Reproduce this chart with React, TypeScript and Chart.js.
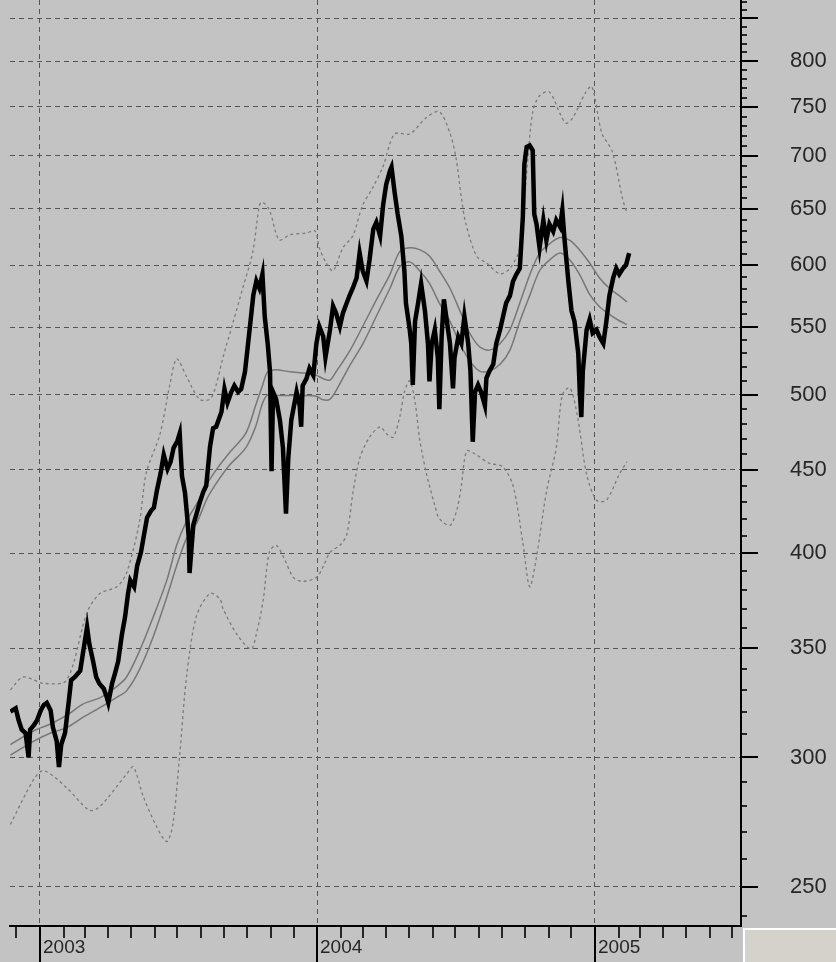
import { useEffect, useRef } from 'react';
import { Chart, registerables } from 'chart.js';

Chart.register(...registerables);

// ---- axis window -----------------------------------------------------------
const AXIS_START = '2002-11-22T12:00:00Z';
const AXIS_END = '2005-07-12T08:00:00Z';
const PRICE_MIN = 236.6;
const PRICE_MAX = 872;

const GRID_VALUES = [250, 300, 350, 400, 450, 500, 550, 600, 650, 700, 750, 800, 850];
const LABEL_VALUES = [250, 300, 350, 400, 450, 500, 550, 600, 650, 700, 750, 800];
const YEAR_LABELS = ['2003', '2004', '2005'];

// ---- daily price -------------------------------------------------------------
const priceDates = [
  '2002-11-23', '2002-11-30', '2002-12-04', '2002-12-08', '2002-12-13', '2002-12-17', '2002-12-19', '2002-12-24',
  '2002-12-28', '2003-01-02', '2003-01-06', '2003-01-10', '2003-01-15', '2003-01-18', '2003-01-23', '2003-01-26',
  '2003-01-29', '2003-02-03', '2003-02-08', '2003-02-11', '2003-02-16', '2003-02-23', '2003-02-27', '2003-03-04',
  '2003-03-07', '2003-03-12', '2003-03-16', '2003-03-20', '2003-03-26', '2003-03-30', '2003-04-01', '2003-04-06',
  '2003-04-10', '2003-04-14', '2003-04-19', '2003-04-23', '2003-04-27', '2003-04-30', '2003-05-05', '2003-05-09',
  '2003-05-14', '2003-05-18', '2003-05-22', '2003-05-27', '2003-05-31', '2003-06-04', '2003-06-09', '2003-06-13',
  '2003-06-18', '2003-06-22', '2003-06-26', '2003-07-01', '2003-07-04', '2003-07-07', '2003-07-11', '2003-07-14',
  '2003-07-16', '2003-07-17', '2003-07-22', '2003-07-26', '2003-07-30', '2003-08-04', '2003-08-08', '2003-08-13',
  '2003-08-17', '2003-08-21', '2003-08-28', '2003-09-01', '2003-09-05', '2003-09-10', '2003-09-14', '2003-09-19',
  '2003-09-23', '2003-09-28', '2003-10-02', '2003-10-06', '2003-10-09', '2003-10-13', '2003-10-17', '2003-10-21',
  '2003-10-24', '2003-10-28', '2003-10-31', '2003-11-02', '2003-11-04', '2003-11-08', '2003-11-13', '2003-11-17',
  '2003-11-21', '2003-11-24', '2003-11-28', '2003-12-05', '2003-12-09', '2003-12-11', '2003-12-13', '2003-12-18',
  '2003-12-22', '2003-12-27', '2003-12-31', '2004-01-04', '2004-01-09', '2004-01-12', '2004-01-18', '2004-01-22',
  '2004-01-26', '2004-01-31', '2004-02-04', '2004-02-09', '2004-02-13', '2004-02-17', '2004-02-22', '2004-02-26',
  '2004-03-01', '2004-03-06', '2004-03-10', '2004-03-15', '2004-03-19', '2004-03-24', '2004-03-28', '2004-04-01',
  '2004-04-06', '2004-04-08', '2004-04-12', '2004-04-16', '2004-04-21', '2004-04-25', '2004-04-27', '2004-05-02',
  '2004-05-04', '2004-05-06', '2004-05-09', '2004-05-13', '2004-05-17', '2004-05-22', '2004-05-26', '2004-05-28',
  '2004-05-31', '2004-06-04', '2004-06-08', '2004-06-10', '2004-06-13', '2004-06-16', '2004-06-19', '2004-06-24',
  '2004-06-28', '2004-06-30', '2004-07-05', '2004-07-09', '2004-07-13', '2004-07-18', '2004-07-21', '2004-07-24',
  '2004-07-27', '2004-07-31', '2004-08-04', '2004-08-09', '2004-08-11', '2004-08-15', '2004-08-20', '2004-08-24',
  '2004-08-29', '2004-09-02', '2004-09-06', '2004-09-11', '2004-09-15', '2004-09-19', '2004-09-24', '2004-09-28',
  '2004-09-30', '2004-10-03', '2004-10-07', '2004-10-11', '2004-10-13', '2004-10-16', '2004-10-20', '2004-10-25',
  '2004-10-29', '2004-11-02', '2004-11-07', '2004-11-11', '2004-11-16', '2004-11-19', '2004-11-22', '2004-11-27',
  '2004-12-01', '2004-12-05', '2004-12-10', '2004-12-12', '2004-12-14', '2004-12-16', '2004-12-21', '2004-12-25',
  '2004-12-29', '2005-01-03', '2005-01-07', '2005-01-12', '2005-01-16', '2005-01-20', '2005-01-25', '2005-01-29',
  '2005-02-02', '2005-02-07', '2005-02-11', '2005-02-15',
];
const priceValues = [
  320, 321.5, 316, 312, 310.5, 300, 312, 314,
  316, 320.5, 323, 324, 320.5, 313, 307, 296,
  305.5, 310.5, 325, 334.5, 336, 339, 348.5, 360.5,
  352, 343.5, 336, 333, 330.5, 326.5, 324, 333,
  338, 343.5, 357, 365.5, 378, 385, 381.5, 393,
  400.5, 410.5, 420.5, 424.5, 426.5, 437, 448, 459.5,
  450.5, 455, 464, 468.5, 473.5, 446, 435.5, 420.5,
  408.5, 389, 416.5, 422.5, 429, 436, 440, 465,
  477, 478, 488, 504, 494.5, 502, 506.5, 502,
  504, 516.5, 537, 558.5, 575.5, 587, 581, 592.5,
  558.5, 537, 516.5, 449, 502, 497, 482.5, 464,
  423, 457, 482.5, 502, 492.5, 478, 506.5, 511.5,
  519, 514, 537, 550.5, 543, 527, 548, 566.5,
  561, 550.5, 561, 569, 575.5, 581, 589.5, 610.5,
  595.5, 587, 604.5, 631.5, 637.5, 625.5, 653.5, 672.5,
  685.5, 689, 665.5, 645.5, 625, 595, 569, 548,
  537.5, 507, 554.5, 569, 585, 563, 537.5, 509.5,
  537.5, 548, 527, 490, 542.5, 572, 558.5, 537.5,
  504.5, 527, 542.5, 537.5, 558.5, 537.5, 517, 468,
  502, 507, 502, 492.5, 512, 517, 522, 537.5,
  548, 558.5, 569, 575, 586.5, 592, 597.5, 642.5,
  692, 709, 710.5, 705.5, 645, 636, 615, 639.5,
  621.5, 636, 629.5, 639.5, 633.5, 648.5, 621.5, 586.5,
  563, 554.5, 530, 502, 484.5, 517, 548, 556,
  545.5, 548, 542.5, 537.5, 554.5, 575, 589.5, 597.5,
  592.5, 597.5, 600.5, 610.5,
];

// ---- smoothed averages (upper / lower) ------------------------------------
const avgDates = [
  '2002-11-23', '2002-12-24', '2003-01-15', '2003-02-06', '2003-02-27', '2003-03-22', '2003-04-12', '2003-04-25',
  '2003-05-12', '2003-05-30', '2003-06-17', '2003-06-30', '2003-07-13', '2003-07-26', '2003-08-09', '2003-08-22',
  '2003-09-07', '2003-09-29', '2003-10-12', '2003-10-21', '2003-10-28', '2003-11-08', '2003-11-26', '2003-12-18',
  '2003-12-31', '2004-01-09', '2004-01-18', '2004-01-26', '2004-02-13', '2004-03-01', '2004-03-19', '2004-04-06',
  '2004-04-19', '2004-05-02', '2004-05-15', '2004-05-28', '2004-06-10', '2004-06-24', '2004-07-07', '2004-07-20',
  '2004-08-02', '2004-08-15', '2004-08-29', '2004-09-11', '2004-09-24', '2004-10-07', '2004-10-20', '2004-11-02',
  '2004-11-16', '2004-11-29', '2004-12-12', '2004-12-25', '2005-01-07', '2005-01-20', '2005-02-02', '2005-02-12',
];
const upperAvgValues = [
  305.5, 311.5, 314.5, 318.5, 323.5, 326.5, 331.5, 336,
  348.5, 365.5, 385, 404.5, 418.5, 428.5, 441, 450.5,
  460.5, 473.5, 492.5, 506.5, 516.5, 518, 516.5, 515.5,
  514, 511.5, 510.5, 516.5, 532, 550.5, 571.5, 592.5,
  612, 615, 613.5, 608, 595.5, 581, 563, 545.5,
  535, 532.5, 537.5, 548, 569, 592, 610.5, 618.5,
  624, 621.5, 613, 602, 589.5, 581, 575, 570,
];
const lowerAvgValues = [
  301, 307, 310.5, 313, 317.5, 322, 326.5, 329.5,
  339.5, 355.5, 376, 393, 408.5, 417, 432, 442,
  452.5, 464, 478, 494, 500, 499.5, 499.5, 499.5,
  499, 496.5, 497, 503, 521, 537, 558.5, 581,
  599, 603, 595.5, 585, 569, 554.5, 537.5, 524.5,
  517, 517, 522, 532.5, 554.5, 575, 595.5, 604.5,
  610.5, 604.5, 592, 576, 566, 560, 555, 552,
];

// ---- volatility envelope --------------------------------------------------
const upperBandDates = [
  '2002-11-23', '2002-12-10', '2003-01-06', '2003-02-05', '2003-03-04', '2003-03-21', '2003-04-12', '2003-04-25',
  '2003-05-12', '2003-05-21', '2003-06-08', '2003-06-21', '2003-06-30', '2003-07-13', '2003-07-30', '2003-08-13',
  '2003-08-21', '2003-08-30', '2003-09-12', '2003-09-25', '2003-10-08', '2003-10-17', '2003-10-21', '2003-10-30',
  '2003-11-12', '2003-11-26', '2003-12-18', '2003-12-29', '2004-01-04', '2004-01-13', '2004-01-22', '2004-02-04',
  '2004-02-17', '2004-03-01', '2004-03-14', '2004-03-28', '2004-04-12', '2004-05-02', '2004-05-24', '2004-06-10',
  '2004-06-24', '2004-07-02', '2004-07-09', '2004-07-15', '2004-07-29', '2004-08-11', '2004-08-29', '2004-09-11',
  '2004-09-24', '2004-10-04', '2004-10-11', '2004-10-20', '2004-11-02', '2004-11-16', '2004-11-24', '2004-12-03',
  '2004-12-20', '2004-12-28', '2005-01-10', '2005-01-24', '2005-02-06', '2005-02-12',
];
const upperBandValues = [
  330, 336, 333, 334.5, 368, 378, 381.5, 389,
  418, 448, 473, 507, 526, 513, 497, 497,
  507, 527, 553, 581, 610.5, 653, 656, 649,
  622, 626.5, 628, 630, 615, 602, 595.5, 615,
  625.5, 653, 669, 690, 722, 722, 739, 745,
  723, 698, 660, 636, 608, 602, 593, 597.5,
  615, 692, 745, 762, 766, 743, 733, 739,
  766, 772, 723, 704, 660, 646,
];

const lowerBandDates = [
  '2002-11-23', '2002-12-24', '2003-01-06', '2003-02-05', '2003-03-07', '2003-03-21', '2003-04-25', '2003-05-04',
  '2003-05-17', '2003-06-03', '2003-06-17', '2003-06-25', '2003-07-04', '2003-07-13', '2003-07-26', '2003-08-13',
  '2003-08-26', '2003-08-30', '2003-09-17', '2003-10-06', '2003-10-13', '2003-10-22', '2003-10-30', '2003-11-08',
  '2003-11-17', '2003-12-01', '2003-12-13', '2003-12-31', '2004-01-09', '2004-01-18', '2004-01-31', '2004-02-09',
  '2004-02-17', '2004-02-26', '2004-03-10', '2004-03-24', '2004-04-01', '2004-04-10', '2004-04-19', '2004-04-25',
  '2004-05-02', '2004-05-09', '2004-05-15', '2004-05-24', '2004-06-04', '2004-06-10', '2004-06-24', '2004-07-03',
  '2004-07-09', '2004-07-16', '2004-07-27', '2004-08-15', '2004-09-01', '2004-09-15', '2004-09-28', '2004-10-07',
  '2004-10-16', '2004-10-29', '2004-11-11', '2004-11-19', '2004-11-29', '2004-12-09', '2004-12-21', '2005-01-03',
  '2005-01-16', '2005-02-02', '2005-02-12',
];
const lowerBandValues = [
  273, 291, 294.5, 287.5, 278.5, 280, 293, 296,
  284, 272.5, 266.5, 273, 301, 336, 366, 378,
  375, 370, 357, 349.5, 357, 374.5, 400.5, 404.5,
  398.5, 386.5, 384.5, 386.5, 392.5, 400.5, 404.5, 410.5,
  435, 457, 471, 478, 473.5, 471, 485, 502,
  510, 495, 470, 447.5, 428, 420, 416, 425,
  440, 462, 460, 454, 452, 440, 406, 381.5,
  398, 436, 464, 500, 505, 485, 447, 431,
  431, 447, 455,
];

// ---- styling ----------------------------------------------------------------
const BG = '#c3c3c3';
const FONT = '"Liberation Sans", Arial, sans-serif';
const TEXT = '#262626';
const GRID = '#555555';
const GRID_DASH = [5, 4];
const BAND_COLOR = '#7b7b7b';

const toTime = (d: string) => new Date(d).getTime();
const series = (dates: string[], values: number[]) =>
  dates.map((d, i) => ({ x: toTime(d), y: values[i] }));

// Background, corner panel and the axis tick marks / year captions
const axisDecor = {
  id: 'axisDecor',
  beforeDraw(chart: any) {
    const { ctx, width, height, chartArea } = chart;
    ctx.save();
    ctx.fillStyle = BG;
    ctx.fillRect(0, 0, width, height);
    const px = Math.round(chartArea.right) + 2;
    const py = Math.round(chartArea.bottom) + 2;
    ctx.fillStyle = '#d5d2cc';
    ctx.fillRect(px, py, width - px, height - py);
    ctx.fillStyle = '#ffffff';
    ctx.fillRect(px, py, width - px, 2);
    ctx.fillRect(px, py, 2, height - py);
    ctx.restore();
  },
  afterDraw(chart: any) {
    const { ctx, chartArea, height } = chart;
    const xs = chart.scales.x;
    const ys = chart.scales.y;
    const axisX = Math.round(chartArea.right);
    const axisY = Math.round(chartArea.bottom);
    ctx.save();
    ctx.strokeStyle = '#000';

    // value axis: major marks every 50, minor marks every 10
    for (let v = Math.ceil(PRICE_MIN / 10) * 10; v <= PRICE_MAX; v += 10) {
      const y = Math.round(ys.getPixelForValue(v));
      if (y < chartArea.top || y > chartArea.bottom) continue;
      const major = v % 50 === 0;
      ctx.lineWidth = major ? 2 : 1.6;
      ctx.beginPath();
      ctx.moveTo(axisX, y);
      ctx.lineTo(axisX + (major ? 17 : 6), y);
      ctx.stroke();
    }

    // time axis: a mark at every month start, long marks at year starts
    const t0 = new Date(xs.min);
    let yr = t0.getUTCFullYear();
    let mo = t0.getUTCMonth() + 1;
    for (;;) {
      if (mo > 11) { mo = 0; yr += 1; }
      const t = Date.UTC(yr, mo, 1);
      if (t > xs.max) break;
      const x = Math.round(xs.getPixelForValue(t));
      const isYear = mo === 0;
      ctx.lineWidth = isYear ? 2 : 1.6;
      ctx.beginPath();
      ctx.moveTo(x, axisY);
      ctx.lineTo(x, isYear ? height : axisY + 12);
      ctx.stroke();
      mo += 1;
    }

    ctx.fillStyle = TEXT;
    ctx.font = `19px ${FONT}`;
    ctx.textAlign = 'left';
    ctx.textBaseline = 'middle';
    YEAR_LABELS.forEach((label) => {
      const x = Math.round(xs.getPixelForValue(Date.UTC(Number(label), 0, 1)));
      ctx.fillText(label, x + 3, axisY + 22);
    });
    ctx.restore();
  },
};

export default function App() {
  const ref = useRef<HTMLCanvasElement | null>(null);

  useEffect(() => {
    document.body.style.margin = '0';
    const canvas = ref.current;
    if (!canvas) return;

    const chart = new Chart(canvas, {
      type: 'line',
      data: {
        datasets: [
          {
            label: 'Price',
            data: series(priceDates, priceValues),
            borderColor: '#000000',
            borderWidth: 4.5,
            pointRadius: 0,
            tension: 0,
            order: 0,
          },
          {
            label: 'Average (upper)',
            data: series(avgDates, upperAvgValues),
            borderColor: '#777777',
            borderWidth: 1.5,
            pointRadius: 0,
            tension: 0.3,
            order: 1,
          },
          {
            label: 'Average (lower)',
            data: series(avgDates, lowerAvgValues),
            borderColor: '#777777',
            borderWidth: 1.5,
            pointRadius: 0,
            tension: 0.3,
            order: 1,
          },
          {
            label: 'Upper band',
            data: series(upperBandDates, upperBandValues),
            borderColor: BAND_COLOR,
            borderWidth: 1.3,
            borderDash: [3, 3],
            pointRadius: 0,
            tension: 0.3,
            order: 2,
          },
          {
            label: 'Lower band',
            data: series(lowerBandDates, lowerBandValues),
            borderColor: BAND_COLOR,
            borderWidth: 1.3,
            borderDash: [3, 3],
            pointRadius: 0,
            tension: 0.3,
            order: 2,
          },
        ],
      },
      options: {
        animation: false,
        responsive: false,
        devicePixelRatio: 1,
        events: [],
        layout: { padding: { left: 10, top: 0, right: 0, bottom: 0 } },
        plugins: { legend: { display: false }, tooltip: { enabled: false } },
        scales: {
          x: {
            type: 'linear',
            min: toTime(AXIS_START),
            max: toTime(AXIS_END),
            afterBuildTicks: (scale: any) => {
              scale.ticks = YEAR_LABELS.map((y) => ({ value: Date.UTC(Number(y), 0, 1) }));
            },
            afterFit: (scale: any) => {
              scale.height = 36;
              scale.paddingLeft = 0;
              scale.paddingRight = 0;
            },
            ticks: { display: false },
            grid: { color: GRID, lineWidth: 1, drawTicks: false },
            border: { display: true, color: '#000000', width: 2, dash: GRID_DASH },
          },
          y: {
            type: 'logarithmic',
            position: 'right',
            min: PRICE_MIN,
            max: PRICE_MAX,
            afterBuildTicks: (scale: any) => {
              scale.ticks = GRID_VALUES.map((v) => ({ value: v }));
            },
            afterFit: (scale: any) => {
              scale.width = 95;
              scale.paddingTop = 0;
              scale.paddingBottom = 0;
            },
            ticks: {
              autoSkip: false,
              padding: 0,
              color: TEXT,
              font: { family: FONT, size: 22 },
              callback: (v: any) => (LABEL_VALUES.includes(Number(v)) ? String(v) : ''),
            },
            // the tick length only sets the label offset; the marks themselves are drawn by axisDecor
            grid: { color: GRID, lineWidth: 1, drawTicks: true, tickLength: 49, tickWidth: 0 },
            border: { display: true, color: '#000000', width: 2, dash: GRID_DASH },
          },
        },
      },
      plugins: [axisDecor],
    });

    return () => chart.destroy();
  }, []);

  return <canvas ref={ref} width={836} height={962} style={{ display: 'block' }} />;
}
